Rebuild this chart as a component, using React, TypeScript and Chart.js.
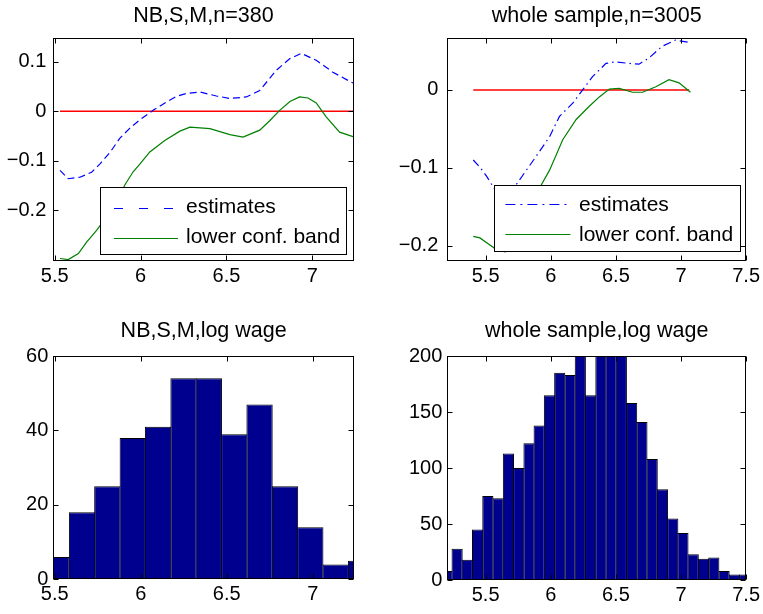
import React, { useEffect, useRef } from 'react';
import { Chart, registerables } from 'chart.js';

Chart.register(...registerables);

const FONT = "'Liberation Sans', Arial, Helvetica, sans-serif";

// ---------- Panel 1: NB,S,M,n=380 ----------
const nbTitle = 'NB,S,M,n=380';
const nbEstX = [5.531, 5.579, 5.647, 5.715, 5.764, 5.822, 5.880, 5.938, 5.996, 6.073, 6.151, 6.209, 6.267, 6.345, 6.442, 6.519, 6.616, 6.694, 6.791, 6.868, 6.936, 7.023, 7.120, 7.237];
const nbEstY = [-0.119, -0.136, -0.133, -0.123, -0.106, -0.083, -0.054, -0.034, -0.017, 0.002, 0.019, 0.030, 0.036, 0.039, 0.031, 0.026, 0.029, 0.042, 0.083, 0.106, 0.117, 0.103, 0.079, 0.057];
const nbLowX = [5.531, 5.579, 5.638, 5.686, 5.744, 5.802, 5.860, 5.909, 5.957, 5.997, 6.054, 6.141, 6.229, 6.288, 6.404, 6.520, 6.597, 6.694, 6.752, 6.810, 6.870, 6.926, 6.975, 7.023, 7.081, 7.159, 7.237];
const nbLowY = [-0.297, -0.299, -0.287, -0.264, -0.240, -0.213, -0.185, -0.148, -0.122, -0.106, -0.082, -0.059, -0.040, -0.032, -0.035, -0.047, -0.052, -0.038, -0.019, 0.002, 0.020, 0.029, 0.027, 0.017, -0.011, -0.042, -0.051];
const nbZeroX = [5.531, 7.24];
const nbZeroY = [0, 0];
const nbXTicks = [5.5, 6, 6.5, 7];
const nbYTicks = [-0.2, -0.1, 0, 0.1];

// ---------- Panel 2: whole sample,n=3005 ----------
const allTitle = 'whole sample,n=3005';
const allEstX = [5.405, 5.460, 5.508, 5.571, 5.620, 5.680, 5.737, 5.813, 5.889, 5.991, 6.067, 6.169, 6.245, 6.321, 6.424, 6.500, 6.601, 6.678, 6.754, 6.856, 6.958, 7.060];
const allEstY = [-0.090, -0.100, -0.111, -0.128, -0.135, -0.132, -0.121, -0.103, -0.085, -0.060, -0.034, -0.017, 0.000, 0.017, 0.034, 0.036, 0.034, 0.033, 0.041, 0.056, 0.064, 0.061];
const allLowX = [5.405, 5.456, 5.533, 5.584, 5.650, 5.720, 5.800, 5.870, 5.927, 5.991, 6.092, 6.195, 6.296, 6.373, 6.450, 6.526, 6.628, 6.705, 6.807, 6.908, 6.985, 7.073];
const allLowY = [-0.188, -0.190, -0.199, -0.205, -0.208, -0.203, -0.178, -0.150, -0.122, -0.103, -0.064, -0.038, -0.021, -0.009, 0.001, 0.002, -0.003, -0.003, 0.004, 0.013, 0.009, -0.003];
const allZeroX = [5.405, 7.063];
const allZeroY = [0, 0];
const allXTicks = [5.5, 6, 6.5, 7, 7.5];
const allYTicks = [-0.2, -0.1, 0];

// ---------- Panel 3: NB,S,M,log wage ----------
const nbHistTitle = 'NB,S,M,log wage';
const nbBinCenters = [5.511, 5.659, 5.806, 5.954, 6.101, 6.249, 6.396, 6.544, 6.691, 6.839, 6.986, 7.134, 7.281];
const nbCounts = [6, 18, 25, 38, 41, 54, 54, 39, 47, 25, 14, 4, 5];
const nbHistYTicks = [0, 20, 40, 60];

// ---------- Panel 4: whole sample,log wage ----------
const allHistTitle = 'whole sample,log wage';
const allBinCenters = [5.202, 5.281, 5.359, 5.438, 5.517, 5.596, 5.675, 5.754, 5.833, 5.911, 5.990, 6.069, 6.148, 6.227, 6.306, 6.385, 6.463, 6.542, 6.621, 6.700, 6.779, 6.858, 6.937, 7.015, 7.094, 7.173, 7.252, 7.331, 7.410, 7.489];
const allCounts = [8, 28, 18, 45, 75, 73, 113, 100, 122, 138, 165, 185, 183, 218, 165, 232, 242, 222, 158, 141, 108, 81, 55, 42, 23, 19, 20, 8, 5, 5];
const allHistYTicks = [0, 50, 100, 150, 200];

const legendLabels = ['estimates', 'lower conf. band'];

// ---------- helpers ----------
const zip = (xs: number[], ys: number[]) => xs.map((x, i) => ({ x, y: ys[i] }));

const fmtTick = (v: any) => {
  const n = Number(v);
  const s = String(Math.round(Math.abs(n) * 1000) / 1000);
  return n < 0 ? '\u2212' + s : s;
};

const framePlugin = {
  id: 'matlabFrame',
  afterDatasetsDraw(chart: any) {
    const { ctx, chartArea: a, scales } = chart;
    const L = Math.round(a.left) + 0.5;
    const R = Math.round(a.right) - 0.5;
    const T = Math.round(a.top) + 0.5;
    const B = Math.round(a.bottom) - 0.5;
    const tl = 5;
    ctx.save();
    ctx.strokeStyle = '#000';
    ctx.lineWidth = 1;
    ctx.setLineDash([]);
    ctx.strokeRect(L, T, R - L, B - T);
    ctx.beginPath();
    scales.x.ticks.forEach((t: any) => {
      const px = Math.round(scales.x.getPixelForValue(t.value)) + 0.5;
      ctx.moveTo(px, B);
      ctx.lineTo(px, B - tl);
      ctx.moveTo(px, T);
      ctx.lineTo(px, T + tl);
    });
    scales.y.ticks.forEach((t: any) => {
      const py = Math.round(scales.y.getPixelForValue(t.value)) + 0.5;
      ctx.moveTo(L, py);
      ctx.lineTo(L + tl, py);
      ctx.moveTo(R, py);
      ctx.lineTo(R - tl, py);
    });
    ctx.stroke();
    ctx.restore();
  },
};

type LegendItem = { text: string; color: string; dash: number[] };
type LegendSpec = {
  width: number; height: number; marginRight: number; marginBottom: number;
  rows: number[]; lineDy: number; lineStart: number; lineLen: number; textStart: number;
  items: LegendItem[];
};

function makeLegend(spec: LegendSpec) {
  return {
    id: 'boxLegend',
    afterDatasetsDraw(chart: any) {
      const { ctx, chartArea: a } = chart;
      const x0 = Math.round(a.right - spec.marginRight - spec.width);
      const y0 = Math.round(a.bottom - spec.marginBottom - spec.height);
      ctx.save();
      ctx.fillStyle = '#fff';
      ctx.fillRect(x0, y0, spec.width, spec.height);
      ctx.strokeStyle = '#000';
      ctx.lineWidth = 1;
      ctx.setLineDash([]);
      ctx.strokeRect(x0 + 0.5, y0 + 0.5, spec.width, spec.height);
      spec.items.forEach((it, i) => {
        const yc = y0 + spec.rows[i];
        const ly = Math.round(yc + spec.lineDy) + 0.5;
        ctx.strokeStyle = it.color;
        ctx.lineWidth = 1.2;
        ctx.setLineDash(it.dash);
        ctx.beginPath();
        ctx.moveTo(x0 + spec.lineStart, ly);
        ctx.lineTo(x0 + spec.lineStart + spec.lineLen, ly);
        ctx.stroke();
        ctx.setLineDash([]);
        ctx.fillStyle = '#000';
        ctx.font = `21px ${FONT}`;
        ctx.textAlign = 'left';
        ctx.textBaseline = 'middle';
        ctx.fillText(it.text, x0 + spec.textStart, yc);
      });
      ctx.restore();
    },
  };
}

type Layout = {
  left: number; top: number; width: number; height: number;
  axisW: number; axisH: number; padRight: number;
  titleTop: number; titleBottom: number;
  xMin: number; xMax: number; yMin: number; yMax: number;
};

function buildOptions(p: Layout, title: string, xTicks: number[], yTicks: number[], yPad: number) {
  const tickFont = { family: FONT, size: 20 };
  return {
    responsive: false,
    animation: false as const,
    events: [] as any[],
    layout: { padding: { left: 0, top: 0, right: p.padRight, bottom: 0 } },
    plugins: {
      legend: { display: false },
      tooltip: { enabled: false },
      title: {
        display: true,
        text: title,
        fullSize: false,
        color: '#000',
        font: { family: FONT, size: 21.5, weight: 'normal' as const },
        padding: { top: p.titleTop, bottom: p.titleBottom },
      },
    },
    scales: {
      x: {
        type: 'linear' as const,
        position: 'bottom' as const,
        min: p.xMin,
        max: p.xMax,
        offset: false,
        afterBuildTicks: (s: any) => { s.ticks = xTicks.map((v) => ({ value: v })); },
        afterFit: (s: any) => { s.height = p.axisH; },
        grid: { display: false, drawTicks: false },
        border: { display: false },
        ticks: { callback: fmtTick, padding: 3, maxRotation: 0, autoSkip: false, font: tickFont, color: '#000' },
      },
      y: {
        type: 'linear' as const,
        position: 'left' as const,
        min: p.yMin,
        max: p.yMax,
        afterBuildTicks: (s: any) => { s.ticks = yTicks.map((v) => ({ value: v })); },
        afterFit: (s: any) => { s.width = p.axisW; },
        grid: { display: false, drawTicks: false },
        border: { display: false },
        ticks: { callback: fmtTick, padding: yPad, autoSkip: false, font: tickFont, color: '#000' },
      },
    },
  };
}

const lineDs = (label: string, xs: number[], ys: number[], color: string, dash: number[], width = 1.2) => ({
  label,
  data: zip(xs, ys),
  borderColor: color,
  backgroundColor: color,
  borderWidth: width,
  borderDash: dash,
  pointRadius: 0,
  fill: false,
  tension: 0,
  clip: 0,
});

const histDs = (xs: number[], ys: number[], overlap: number) => ({
  label: 'count',
  data: zip(xs, ys),
  backgroundColor: '#00008f',
  borderColor: '#000',
  borderWidth: { top: 1, left: 1, right: 1, bottom: 0 },
  barPercentage: overlap,
  categoryPercentage: 1,
  inflateAmount: 0,
  clip: 0,
});

const L1: Layout = { left: 0, top: 0, width: 381, height: 300, axisW: 53.3, axisH: 39, padRight: 27.5, titleTop: 3.1, titleBottom: 8.6, xMin: 5.492, xMax: 7.24, yMin: -0.302, yMax: 0.149 };
const L2: Layout = { left: 381, top: 0, width: 382, height: 300, axisW: 66.3, axisH: 38.7, padRight: 14.3, titleTop: 3.1, titleBottom: 8.8, xMin: 5.2056, xMax: 7.5, yMin: -0.22, yMax: 0.067 };
const L3: Layout = { left: 0, top: 300, width: 381, height: 314, axisW: 53.3, axisH: 34.7, padRight: 27, titleTop: 18.6, titleBottom: 11.6, xMin: 5.492, xMax: 7.24, yMin: 0, yMax: 60 };
const L4: Layout = { left: 381, top: 300, width: 382, height: 314, axisW: 66.3, axisH: 34, padRight: 14.3, titleTop: 18.6, titleBottom: 11.6, xMin: 5.2056, xMax: 7.5, yMin: 0, yMax: 200 };

const legend1 = makeLegend({
  width: 246, height: 67, marginRight: 8, marginBottom: 7, rows: [20.5, 50.5], lineDy: 0,
  lineStart: 14, lineLen: 64, textStart: 86,
  items: [
    { text: legendLabels[0], color: '#0000ff', dash: [9, 16] },
    { text: legendLabels[1], color: '#008000', dash: [] },
  ],
});
const legend2 = makeLegend({
  width: 246, height: 66, marginRight: 6, marginBottom: 10.6, rows: [20.5, 50.5], lineDy: -2,
  lineStart: 11.4, lineLen: 65, textStart: 85,
  items: [
    { text: legendLabels[0], color: '#0000ff', dash: [10, 5, 2, 5] },
    { text: legendLabels[1], color: '#008000', dash: [] },
  ],
});

const panels: { layout: Layout; build: () => any }[] = [
  {
    layout: L1,
    build: () => ({
      type: 'line',
      data: {
        datasets: [
          lineDs(legendLabels[0], nbEstX, nbEstY, '#0000ff', [7, 4]),
          lineDs(legendLabels[1], nbLowX, nbLowY, '#008000', []),
          lineDs('zero', nbZeroX, nbZeroY, '#ff0000', [], 1.5),
        ],
      },
      options: buildOptions(L1, nbTitle, nbXTicks, nbYTicks, 7),
      plugins: [legend1, framePlugin],
    }),
  },
  {
    layout: L2,
    build: () => ({
      type: 'line',
      data: {
        datasets: [
          lineDs(legendLabels[0], allEstX, allEstY, '#0000ff', [8, 4, 1.5, 4]),
          lineDs(legendLabels[1], allLowX, allLowY, '#008000', []),
          lineDs('zero', allZeroX, allZeroY, '#ff0000', [], 1.5),
        ],
      },
      options: buildOptions(L2, allTitle, allXTicks, allYTicks, 9),
      plugins: [legend2, framePlugin],
    }),
  },
  {
    layout: L3,
    build: () => ({
      type: 'bar',
      data: { datasets: [histDs(nbBinCenters, nbCounts, 1.04)] },
      options: buildOptions(L3, nbHistTitle, nbXTicks, nbHistYTicks, 5),
      plugins: [framePlugin],
    }),
  },
  {
    layout: L4,
    build: () => ({
      type: 'bar',
      data: { datasets: [histDs(allBinCenters, allCounts, 1.1)] },
      options: buildOptions(L4, allHistTitle, allXTicks, allHistYTicks, 5),
      plugins: [framePlugin],
    }),
  },
];

function Panel({ layout, build }: { layout: Layout; build: () => any }) {
  const ref = useRef<HTMLCanvasElement>(null);
  useEffect(() => {
    if (!ref.current) return;
    const chart = new Chart(ref.current, build());
    return () => chart.destroy();
  }, []);
  return (
    <canvas
      ref={ref}
      width={layout.width}
      height={layout.height}
      style={{ position: 'absolute', left: layout.left, top: layout.top, width: layout.width, height: layout.height }}
    />
  );
}

export default function App() {
  return (
    <div style={{ position: 'absolute', left: 0, top: 0, width: 763, height: 614, background: '#fff', overflow: 'hidden' }}>
      {panels.map((p, i) => (
        <Panel key={i} layout={p.layout} build={p.build} />
      ))}
    </div>
  );
}
